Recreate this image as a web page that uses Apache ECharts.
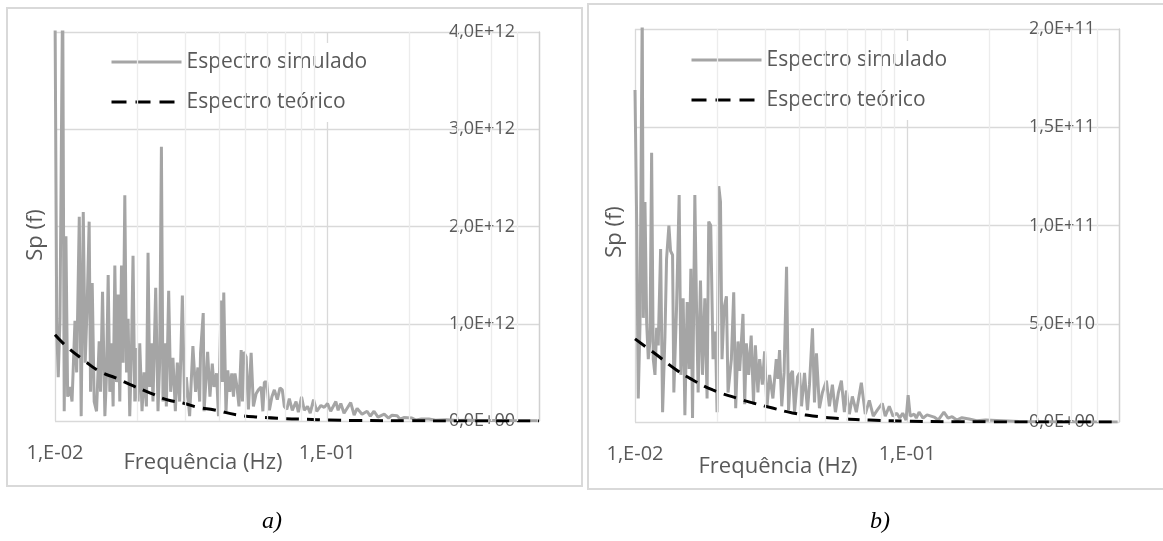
<!DOCTYPE html>
<html>
<head>
<meta charset="utf-8">
<script src="https://cdn.jsdelivr.net/npm/echarts@6/dist/echarts.min.js"></script>
<style>
html,body{margin:0;padding:0;background:#fff;}
#chart{width:1163px;height:541px;}
</style>
</head>
<body>
<div id="chart"></div>
<script>
// ---------- DATA ----------
// Panel a) simulated spectrum: [frequency Hz, Sp in 1e12 units]
const simA = [
[0.01000,4.3],[0.01015,0.95],[0.01028,0.45],[0.01043,1.05],[0.01067,4.5],[0.01081,0.1],[0.01097,1.9],[0.01113,0.25],
[0.01135,0.35],[0.01155,0.2],[0.01184,1.03],[0.01201,0.5],[0.01228,2.1],[0.01248,0.05],[0.01270,2.15],[0.01291,0.6],
[0.01313,1.2],[0.01335,2.05],[0.01351,0.3],[0.01370,1.42],[0.01393,0.2],[0.01421,0.1],[0.01453,0.82],[0.01470,0.3],
[0.01495,1.33],[0.01525,0.05],[0.01547,0.5],[0.01568,1.5],[0.01590,0.3],[0.01613,0.8],[0.01635,0.15],[0.01659,1.6],
[0.01683,0.4],[0.01706,1.3],[0.01730,0.2],[0.01755,1.6],[0.01779,0.6],[0.01805,2.32],[0.01831,0.5],[0.01856,1.05],
[0.01882,0.05],[0.01909,0.7],[0.01935,1.7],[0.01964,0.2],[0.01992,0.75],[0.02019,0.2],[0.02048,0.8],[0.02088,0.1],
[0.02124,0.5],[0.02167,0.15],[0.02197,1.73],[0.02228,0.35],[0.02260,0.8],[0.02291,0.2],[0.02344,1.37],[0.02390,0.1],
[0.02424,0.6],[0.02460,2.82],[0.02493,0.2],[0.02529,0.8],[0.02565,0.15],[0.02616,1.34],[0.02660,0.3],[0.02712,0.65],
[0.02768,0.1],[0.02815,0.6],[0.02870,0.2],[0.02937,1.29],[0.02994,0.2],[0.03037,0.45],[0.03123,0.05],[0.03211,0.77],
[0.03285,0.3],[0.03349,0.55],[0.03400,0.2],[0.03425,0.7],[0.03504,1.11],[0.03529,0.1],[0.03637,0.71],[0.03709,0.25],
[0.03783,0.59],[0.03838,0.35],[0.03921,0.49],[0.03987,0.05],[0.04078,1.24],[0.04123,0.4],[0.04169,1.32],[0.04247,0.08],
[0.04312,0.52],[0.04386,0.3],[0.04461,0.49],[0.04526,0.25],[0.04584,0.49],[0.04662,0.35],[0.04741,0.15],[0.04830,0.73],
[0.04883,0.2],[0.04937,0.71],[0.05038,0.66],[0.05136,0.12],[0.05255,0.7],[0.05357,0.15],[0.05481,0.28],[0.05588,0.32],
[0.05716,0.35],[0.05803,0.1],[0.05878,0.4],[0.05993,0.4],[0.06132,0.11],[0.06264,0.25],[0.06395,0.32],[0.06558,0.22],
[0.06709,0.34],[0.06840,0.32],[0.06958,0.15],[0.07106,0.12],[0.07258,0.23],[0.07445,0.11],[0.07684,0.2],[0.07835,0.09],
[0.08049,0.25],[0.08236,0.11],[0.08468,0.15],[0.08663,0.08],[0.08910,0.22],[0.09154,0.1],[0.09483,0.16],[0.09750,0.14],
[0.1003,0.18],[0.1030,0.1],[0.1076,0.2],[0.1097,0.11],[0.1122,0.18],[0.1153,0.08],[0.1220,0.19],[0.1256,0.06],
[0.1288,0.13],[0.1343,0.07],[0.1401,0.1],[0.1440,0.05],[0.1486,0.1],[0.1537,0.04],[0.1620,0.07],[0.1680,0.03],
[0.1730,0.06],[0.1806,0.055],[0.1850,0.02],[0.1911,0.035],[0.2048,0.03],[0.2120,0.01],[0.2220,0.02],[0.2364,0.02],
[0.2500,0.008],[0.2744,0.012],[0.3000,0.005],[0.3232,0.008],[0.3700,0.004],[0.4159,0.005],[0.4760,0.004],[0.5930,0.003]
];
// Panel a) theoretical spectrum (1e12 units)
const theoA = [
[0.0100,0.887],[0.0110,0.77],[0.0127,0.63],[0.0146,0.51],[0.0168,0.44],[0.0194,0.36],[0.0223,0.29],[0.0257,0.22],
[0.0295,0.185],[0.0335,0.14],[0.0386,0.113],[0.0468,0.062],[0.0572,0.038],[0.0696,0.025],[0.0844,0.017],[0.1000,0.01],
[0.1300,0.005],[0.2000,0.002],[0.3000,0.001],[0.6000,0.0003]
];
// Panel b) simulated spectrum (1e10 units)
const simB = [
[0.01000,16.9],[0.01015,9.86],[0.01028,1.2],[0.01043,4.9],[0.01063,21],[0.01073,5.3],[0.01088,11.2],[0.01104,5.0],
[0.01119,3.2],[0.01135,4.1],[0.01151,13.7],[0.01167,3.2],[0.01184,2.4],[0.01201,4.8],[0.01217,3.9],[0.01242,8.8],
[0.01263,0.5],[0.01288,4.3],[0.01306,8.3],[0.01332,10.0],[0.01351,8.7],[0.01374,8.5],[0.01389,1.5],[0.01421,5.8],
[0.01453,11.55],[0.01474,2.4],[0.01503,6.3],[0.01525,0.35],[0.01555,6.1],[0.01581,2.7],[0.01604,7.8],[0.01627,0.2],
[0.01659,11.55],[0.01683,5.8],[0.01706,1.5],[0.01740,7.2],[0.01770,2.4],[0.01805,6.3],[0.01840,1.2],[0.01866,10.2],
[0.01898,10.0],[0.01935,3.2],[0.01975,4.6],[0.02002,0.5],[0.02031,12.0],[0.02061,11.2],[0.02088,3.2],[0.02124,5.8],
[0.02167,6.4],[0.02197,1.5],[0.02260,3.2],[0.02305,6.6],[0.02344,0.7],[0.02390,4.1],[0.02424,2.6],[0.02493,5.5],
[0.02529,0.9],[0.02565,4.0],[0.02616,2.4],[0.02672,4.4],[0.02725,1.0],[0.02768,3.9],[0.02829,1.5],[0.02870,3.2],
[0.02937,1.9],[0.02994,3.6],[0.03052,0.7],[0.03123,2.4],[0.03211,1.2],[0.03304,3.2],[0.03349,2.2],[0.03397,3.66],
[0.03460,0.8],[0.03530,2.5],[0.03604,7.9],[0.03665,0.6],[0.03728,2.4],[0.03790,2.6],[0.03856,0.5],[0.03955,2.3],
[0.04022,2.5],[0.04090,0.8],[0.04195,2.5],[0.04302,0.6],[0.04375,1.9],[0.04488,4.77],[0.04564,1.0],[0.04641,3.5],
[0.04760,0.7],[0.04882,1.5],[0.05049,2.1],[0.05179,0.8],[0.05311,1.9],[0.05448,0.5],[0.05588,1.5],[0.05731,2.1],
[0.05878,0.5],[0.05978,1.6],[0.06132,0.4],[0.06288,1.3],[0.06503,0.5],[0.06784,2.0],[0.07016,0.4],[0.07258,1.1],
[0.07505,0.3],[0.07763,0.6],[0.08097,0.95],[0.08306,0.3],[0.08592,0.8],[0.08870,0.3],[0.09155,0.45],[0.09390,0.2],
[0.09626,0.45],[0.09899,0.1],[0.1008,1.37],[0.1026,0.3],[0.1061,0.4],[0.1080,0.2],[0.1106,0.5],[0.1144,0.2],
[0.1183,0.36],[0.1256,0.25],[0.1300,0.1],[0.1364,0.5],[0.1413,0.2],[0.1462,0.27],[0.1520,0.1],[0.1589,0.22],
[0.1687,0.15],[0.1800,0.06],[0.1943,0.1],[0.2230,0.07],[0.2572,0.03],[0.3455,0.01],[0.5930,0.005]
];
// Panel b) theoretical spectrum (1e10 units)
const theoB = [
[0.0100,4.23],[0.0120,3.42],[0.0142,2.65],[0.0163,2.14],[0.0193,1.63],[0.0236,1.22],[0.0271,0.97],[0.0320,0.71],
[0.0379,0.46],[0.0450,0.31],[0.0531,0.2],[0.0724,0.1],[0.1000,0.04],[0.1500,0.015],[0.2000,0.007],[0.3000,0.002],
[0.6000,0.0005]
];
const unitA = 1e12, unitB = 1e10;
const minorGrid = [0.02,0.03,0.04,0.05,0.06,0.07,0.08,0.09,0.2,0.3,0.4,0.5];
const seriesNames = ['Espectro simulado','Espectro teórico'];
const xTitle = 'Frequência (Hz)';
const yTitle = 'Sp (f)';
const captions = ['a)','b)'];

// ---------- CHART ----------
const FONT = 'Open Sans';
const TXT = '#595959';
function sci(v){
  if (v === 0) return '0,0E+00';
  const e = Math.floor(Math.log10(v) + 1e-9);
  const m = v / Math.pow(10, e);
  return m.toFixed(1).replace('.', ',') + 'E+' + String(e).padStart(2,'0');
}
function logLab(v){
  const l = Math.log10(v);
  if (Math.abs(l - Math.round(l)) > 1e-6) return '';
  const e = Math.round(l);
  return '1,E' + (e < 0 ? '-' : '+') + String(Math.abs(e)).padStart(2,'0');
}
function xAx(i){
  return {
    type:'log', logBase:10, gridIndex:i, min:0.01, max:0.6,
    axisLine:{show:false}, axisTick:{show:false},
    axisLabel:{formatter:logLab, fontFamily:FONT, fontSize:20, color:TXT, margin:22, showMaxLabel:false},
    splitLine:{show:true, lineStyle:{color:'#d9d9d9', width:1.3}},
    minorTick:{show:false}, minorSplitLine:{show:false}
  };
}
function yAx(i, max, interval){
  return {
    type:'value', gridIndex:i, position:'right', min:0, max:max, interval:interval,
    axisLine:{show:true, lineStyle:{color:'#d0d0d0', width:1.3}}, axisTick:{show:false},
    axisLabel:{inside:true, margin:24, formatter:sci, fontFamily:FONT, fontSize:18, color:TXT},
    splitLine:{show:true, lineStyle:{color:'#d9d9d9', width:1.3}}
  };
}
function panelSeries(i, sim, theo, unit){
  return [
    { type:'line', xAxisIndex:i, yAxisIndex:i, data:[[0.01,0]], symbol:'none', silent:true, z:1,
      lineStyle:{opacity:0},
      markLine:{silent:true, symbol:'none', label:{show:false}, animation:false,
        lineStyle:{color:'#ececec', width:1.3, type:'solid'},
        data: minorGrid.map(v => ({xAxis:v}))} },
    { name:seriesNames[0], type:'line', xAxisIndex:i, yAxisIndex:i, z:2,
      data: sim.map(p => [p[0], p[1]*unit]), symbol:'none',
      lineStyle:{color:'#a5a5a5', width:3}, itemStyle:{color:'#a5a5a5'} },
    { name:seriesNames[1], type:'line', xAxisIndex:i, yAxisIndex:i, z:3, smooth:true,
      data: theo.map(p => [p[0], p[1]*unit]), symbol:'none',
      lineStyle:{color:'#000', width:3, type:[13,8]}, itemStyle:{color:'#000'} }
  ];
}
function legendAt(left, top){
  return {
    orient:'vertical', left:left, top:top,
    data:[
      {name:seriesNames[0], lineStyle:{type:'solid', width:3, color:'#a5a5a5'}},
      {name:seriesNames[1], lineStyle:{type:[15,9], width:3, color:'#000'}}
    ],
    itemWidth:70, itemHeight:14, itemGap:16, backgroundColor:'#fff', padding:[7,10,8,10],
    itemStyle:{opacity:0, borderWidth:0},
    textStyle:{fontFamily:FONT, fontSize:21, color:TXT, lineHeight:24}, selectedMode:false
  };
}
const chart = echarts.init(document.getElementById('chart'), null, {renderer:'canvas'});
chart.setOption({
  animation:false,
  backgroundColor:'#fff',
  grid:[
    {left:55, top:32, width:484, height:389},
    {left:635, top:29, width:484, height:393}
  ],
  xAxis:[xAx(0), xAx(1)],
  yAxis:[yAx(0, 4e12, 1e12), yAx(1, 2e11, 5e10)],
  legend:[legendAt(100, 43), legendAt(680, 41)],
  series:[...panelSeries(0, simA, theoA, unitA), ...panelSeries(1, simB, theoB, unitB)],
  graphic:[
    {type:'rect', shape:{x:7, y:8, width:575, height:478}, style:{fill:'none', stroke:'#d9d9d9', lineWidth:2}, z:-1},
    {type:'rect', shape:{x:588, y:4, width:590, height:485}, style:{fill:'none', stroke:'#d9d9d9', lineWidth:2}, z:-1},
    {type:'text', x:36, y:235, rotation:Math.PI/2, style:{text:yTitle, font:'22px "Open Sans"', fill:TXT, textAlign:'center', textVerticalAlign:'middle'}},
    {type:'text', x:615, y:232, rotation:Math.PI/2, style:{text:yTitle, font:'22px "Open Sans"', fill:TXT, textAlign:'center', textVerticalAlign:'middle'}},
    {type:'text', x:203, y:463, style:{text:xTitle, font:'22px "Open Sans"', fill:TXT, textAlign:'center', textVerticalAlign:'middle'}},
    {type:'text', x:778, y:467, style:{text:xTitle, font:'22px "Open Sans"', fill:TXT, textAlign:'center', textVerticalAlign:'middle'}},
    {type:'text', x:272, y:522, style:{text:captions[0], font:'italic 24px "Liberation Serif"', fill:'#000', textAlign:'center', textVerticalAlign:'middle'}},
    {type:'text', x:880, y:522, style:{text:captions[1], font:'italic 24px "Liberation Serif"', fill:'#000', textAlign:'center', textVerticalAlign:'middle'}}
  ]
});
</script>
</body>
</html>
